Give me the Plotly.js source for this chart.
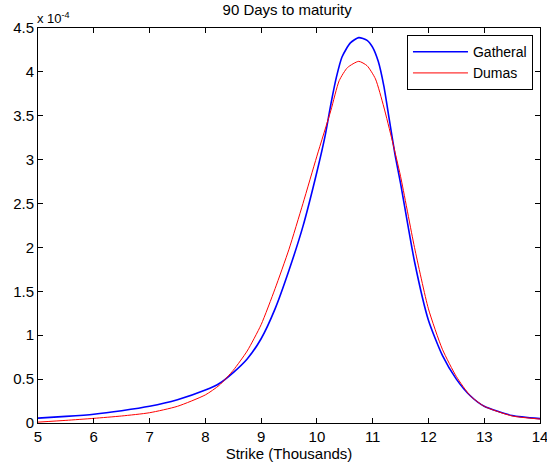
<!DOCTYPE html>
<html>
<head>
<meta charset="utf-8">
<script src="https://cdn.plot.ly/plotly-3.0.1.min.js"></script>
<style>html,body{margin:0;padding:0;background:#fff;}#chart{width:547px;height:465px;}</style>
</head>
<body>
<div id="chart"></div>
<script>
// Strike in thousands, densities in units of 1e-4
const strikesG = [5.0, 5.5, 6.0, 6.5, 7.0, 7.5, 8.0, 8.25, 8.5, 8.75, 9.0, 9.25, 9.5, 9.75, 10.0, 10.15, 10.25, 10.35, 10.45, 10.6, 10.75, 10.9, 11.0, 11.1, 11.2, 11.3, 11.4, 11.5, 11.75, 12.0, 12.25, 12.5, 12.75, 13.0, 13.5, 14.0];
const gatheral = [0.055, 0.075, 0.10, 0.14, 0.19, 0.265, 0.375, 0.45, 0.575, 0.73, 0.96, 1.30, 1.74, 2.24, 2.86, 3.28, 3.63, 3.94, 4.17, 4.33, 4.39, 4.36, 4.28, 4.12, 3.84, 3.45, 3.06, 2.73, 1.84, 1.17, 0.77, 0.50, 0.31, 0.19, 0.085, 0.05];
const strikesD = [5.0, 5.5, 6.0, 6.5, 7.0, 7.5, 8.0, 8.25, 8.5, 8.75, 9.0, 9.25, 9.5, 9.75, 10.0, 10.25, 10.4, 10.55, 10.75, 10.9, 11.05, 11.2, 11.35, 11.5, 11.75, 12.0, 12.25, 12.5, 12.75, 13.0, 13.5, 14.0];
const dumas    = [0.01, 0.03, 0.053, 0.08, 0.117, 0.19, 0.32, 0.43, 0.60, 0.82, 1.12, 1.53, 1.98, 2.50, 3.04, 3.56, 3.90, 4.05, 4.12, 4.07, 3.92, 3.60, 3.22, 2.81, 2.00, 1.30, 0.84, 0.53, 0.31, 0.19, 0.08, 0.045];
const seriesNames = ["Gatheral", "Dumas"];
const titleText = "90 Days to maturity";
const xTitle = "Strike (Thousands)";
const exponentText = "x 10<sup>-4</sup>";

const fam = "Liberation Sans, Arial, sans-serif";

const traces = [
  {x: strikesG, y: gatheral, name: seriesNames[0], type: "scatter", mode: "lines",
   line: {color: "#0000ff", width: 1.6, shape: "spline", smoothing: 0.6}},
  {x: strikesD, y: dumas, name: seriesNames[1], type: "scatter", mode: "lines",
   line: {color: "#ff0000", width: 1, shape: "spline", smoothing: 0.6}}
];

const layout = {
  width: 547, height: 465,
  margin: {l: 38, r: 7, t: 28, b: 42},
  paper_bgcolor: "#fff", plot_bgcolor: "#fff",
  font: {family: fam, size: 14, color: "#000"},
  showlegend: true,
  title: {text: titleText, font: {family: fam, size: 15, color: "#000"}, x: 0.525, xanchor: "center", y: 0.99, yanchor: "top"},
  xaxis: {
    range: [5, 14], tickmode: "linear", tick0: 5, dtick: 1,
    showgrid: false, zeroline: false,
    showline: true, linecolor: "#000", linewidth: 1, mirror: "ticks",
    ticks: "inside", ticklen: 5, tickcolor: "#000",
    ticklabeloverflow: "allow",
    tickfont: {family: fam, size: 15, color: "#000"},
    title: {text: xTitle, font: {family: fam, size: 15, color: "#000"}, standoff: 3}
  },
  yaxis: {
    range: [0, 4.5], tickmode: "linear", tick0: 0, dtick: 0.5,
    showgrid: false, zeroline: false,
    showline: true, linecolor: "#000", linewidth: 1, mirror: "ticks",
    ticks: "inside", ticklen: 5, tickcolor: "#000",
    tickfont: {family: fam, size: 15, color: "#000"}
  },
  legend: {
    x: 0.986, y: 0.982, xanchor: "right", yanchor: "top",
    bgcolor: "#fff", bordercolor: "#000", borderwidth: 1,
    font: {family: fam, size: 14, color: "#000"},
    itemwidth: 55,
    tracegroupgap: 0
  },
  annotations: [
    {text: exponentText, xref: "paper", yref: "paper", x: 0, y: 1, xanchor: "left", yanchor: "bottom",
     showarrow: false, font: {family: fam, size: 13, color: "#000"}, xshift: -3, yshift: 0}
  ]
};

Plotly.newPlot("chart", traces, layout, {displayModeBar: false, staticPlot: true});
</script>
</body>
</html>
